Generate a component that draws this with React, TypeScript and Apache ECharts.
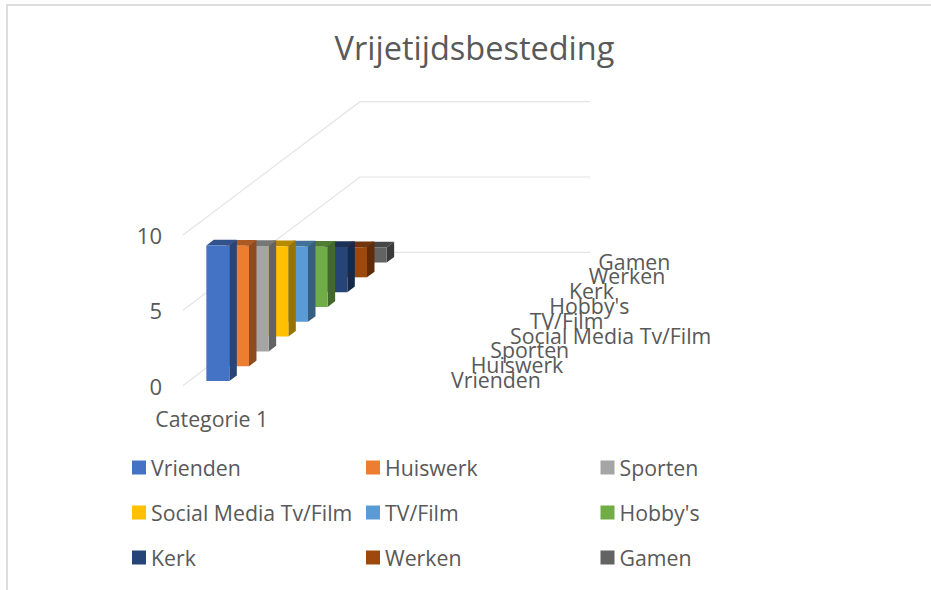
import React, { useEffect, useRef } from "react";
import * as echarts from "echarts";

const titleText = "Vrijetijdsbesteding";
const categories = ["Categorie 1", "", "", ""];
const seriesNames = ["Vrienden", "Huiswerk", "Sporten", "Social Media Tv/Film", "TV/Film", "Hobby's", "Kerk", "Werken", "Gamen"];
const seriesValues = [9, 8, 7, 6, 5, 4, 3, 2, 1];
const seriesColors = ["#4472C4", "#ED7D31", "#A5A5A5", "#FFC000", "#5B9BD5", "#70AD47", "#264478", "#9E480E", "#636363"];
const gridValues = [0, 5, 10];
const FONT = "'Open Sans', sans-serif";
const TEXT = "#595959";
const DX = 177 / 9; // screen shift per series along the depth axis
const DY = -133.3 / 9;
const BAR_DEPTH = 0.38;

function shade(hex: string, f: number) {
  const n = parseInt(hex.slice(1), 16);
  const c = [(n >> 16) & 255, (n >> 8) & 255, n & 255].map((v) => Math.round(v * f));
  return `rgb(${c[0]},${c[1]},${c[2]})`;
}

function renderBar(i: number) {
  return (params: any, api: any) => {
    const cat = api.value(0);
    const val = api.value(1);
    const base = api.coord([cat, 0]);
    const top = api.coord([cat, val]);
    const w = api.size([1, 0])[0] / 2.5;
    const off = i + (1 - BAR_DEPTH) / 2;
    const x0 = base[0] - w / 2 + off * DX;
    const x1 = x0 + w;
    const yb = base[1] + off * DY;
    const yt = top[1] + off * DY;
    const ox = BAR_DEPTH * DX;
    const oy = BAR_DEPTH * DY;
    const col = seriesColors[i];
    const labelX = params.coordSys.x + 268 + i * DX;
    const children: any[] = [
      { type: "polygon", shape: { points: [[x1, yt], [x1 + ox, yt + oy], [x1 + ox, yb + oy], [x1, yb]] }, style: { fill: shade(col, 0.6) } },
      { type: "polygon", shape: { points: [[x0, yt], [x0 + ox, yt + oy], [x1 + ox, yt + oy], [x1, yt]] }, style: { fill: shade(col, 0.72) } },
      { type: "rect", shape: { x: x0, y: yt, width: w, height: yb - yt }, style: { fill: col } },
    ];
    return {
      type: "group",
      children: [
        ...children,
        {
          type: "text",
          z2: 100,
          style: {
            text: seriesNames[i],
            x: labelX - (i === 8 ? 10 : 0),
            y: base[1] - 6 + i * DY,
            fill: TEXT,
            font: `21.3px ${FONT}`,
            textAlign: "left",
            textVerticalAlign: "middle",
          },
        },
      ],
    };
  };
}

function renderGridLine(params: any, api: any) {
  const p = api.coord([0, api.value(0)]);
  const x0 = params.coordSys.x;
  const w = params.coordSys.width;
  const depthX = DX * 9;
  const depthY = DY * 9;
  return {
    type: "polyline",
    shape: { points: [[x0, p[1]], [x0 + depthX, p[1] + depthY], [x0 + depthX + w, p[1] + depthY]] },
    style: { fill: "none", stroke: "#E4E4E4", lineWidth: 1.2 },
  };
}

export default function App() {
  const ref = useRef<HTMLDivElement>(null);
  useEffect(() => {
    document.body.style.margin = "0";
    const chart = echarts.init(ref.current!, undefined, { renderer: "svg" });
    const legendBase = {
      orient: "vertical",
      top: 457,
      itemWidth: 14,
      itemHeight: 14,
      itemGap: 24,
      icon: "rect",
      selectedMode: false,
      padding: 0,
      textStyle: { fontFamily: FONT, fontSize: 21.3, color: TEXT, padding: [0, 0, 0, 0] },
    };
    const legendCol = (k: number) => [0, 1, 2].map((r) => seriesNames[r * 3 + k]);
    chart.setOption({
      animation: false,
      title: {
        text: titleText,
        left: 474.5,
        textAlign: "center",
        top: 31,
        padding: 0,
        textStyle: { fontFamily: FONT, fontSize: 32.5, fontWeight: "normal", color: TEXT },
      },
      legend: [132, 366, 600.5].map((left, k) => ({ ...legendBase, left, data: legendCol(k) })),
      grid: { left: 183, top: 235, width: 230, height: 150.6 },
      xAxis: {
        type: "category",
        data: categories,
        axisLine: { show: false },
        axisTick: { show: false },
        axisLabel: { color: TEXT, fontFamily: FONT, fontSize: 21.3, margin: 22, interval: 0 },
      },
      yAxis: {
        type: "value",
        min: 0,
        max: 10,
        interval: 5,
        axisLine: { show: false },
        axisTick: { show: false },
        splitLine: { show: false },
        axisLabel: { color: TEXT, fontFamily: FONT, fontSize: 22, margin: 21 },
      },
      graphic: [
        {
          type: "polyline",
          silent: true,
          shape: { points: [[7, 590], [7, 5], [931, 5]] },
          style: { fill: "none", stroke: "#DCDCDC", lineWidth: 2 },
        },
      ],
      series: [
        {
          type: "custom",
          name: "Rasterlijnen",
          z: 1,
          silent: true,
          data: gridValues.map((v) => [v]),
          encode: { y: 0 },
          renderItem: renderGridLine,
        },
        ...seriesNames.map((name, i) => ({
          type: "custom",
          name,
          z: 30 - i,
          silent: true,
          itemStyle: { color: seriesColors[i] },
          data: [[0, seriesValues[i]]],
          encode: { x: 0, y: 1 },
          renderItem: renderBar(i),
        })),
      ],
    });
    return () => chart.dispose();
  }, []);
  return <div ref={ref} style={{ width: 931, height: 590 }} />;
}
